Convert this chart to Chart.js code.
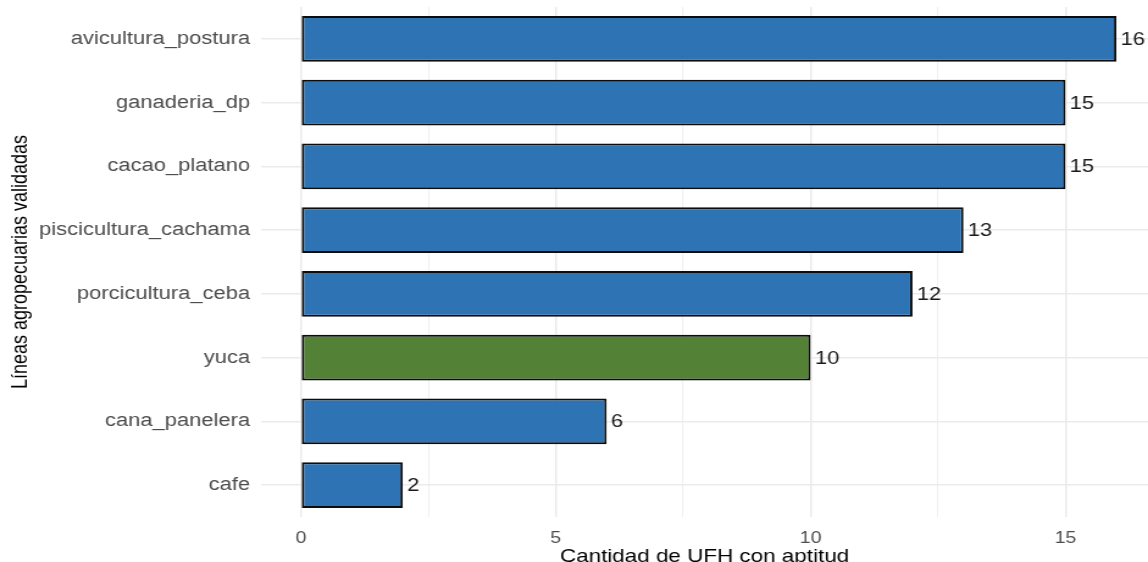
<!DOCTYPE html>
<html>
<head>
<meta charset="utf-8">
<script src="https://cdn.jsdelivr.net/npm/chart.js@4.4.1/dist/chart.umd.min.js"></script>
<style>
  html, body { margin: 0; padding: 0; background: #fff; overflow: hidden; }
  /* the source picture is stretched sideways, so the chart is drawn narrow and widened */
  #wrap { width: 941px; height: 562px; transform-origin: 0 0; transform: scaleX(1.22); }
  #lineasChart { width: 941px; height: 562px; }
</style>
</head>
<body>
<div id="wrap"><canvas id="lineasChart" width="941" height="562"></canvas></div>
<script>
// categories top to bottom
const lineas = ['avicultura_postura', 'ganaderia_dp', 'cacao_platano', 'piscicultura_cachama',
  'porcicultura_ceba', 'yuca', 'cana_panelera', 'cafe'];
const cantidadUFH = [16, 15, 15, 13, 12, 10, 6, 2];
const destacada = 'yuca';
const xTicks = [0, 5, 10, 15];

const azul = '#2E74B5';
const verde = '#538135';
const fuente = '"Liberation Sans", Arial, sans-serif';

// values written just right of each bar end
const valueLabels = {
  id: 'valueLabels',
  afterDatasetsDraw(chart) {
    const ctx = chart.ctx;
    const meta = chart.getDatasetMeta(0);
    ctx.save();
    ctx.font = '18px ' + fuente;
    ctx.fillStyle = '#1a1a1a';
    ctx.textAlign = 'left';
    ctx.textBaseline = 'middle';
    meta.data.forEach((bar, i) => {
      ctx.fillText(String(cantidadUFH[i]), bar.x + 3.5, bar.y + 1);
    });
    ctx.restore();
  }
};

const ctx = document.getElementById('lineasChart').getContext('2d');
const chart = new Chart(ctx, {
  type: 'bar',
  data: {
    labels: lineas,
    datasets: [{
      data: cantidadUFH,
      backgroundColor: lineas.map(l => l === destacada ? verde : azul),
      borderColor: '#0d0d0d',
      borderWidth: 2,
      borderSkipped: false,
      barPercentage: 0.72,
      categoryPercentage: 1.0
    }]
  },
  options: {
    indexAxis: 'y',
    responsive: false,
    animation: false,
    layout: { padding: { top: 7, right: 0, bottom: 0, left: 0 } },
    plugins: { legend: { display: false }, tooltip: { enabled: false } },
    scales: {
      x: {
        min: -0.78,
        max: 16.62,
        border: { display: false },
        grid: {
          drawTicks: false,
          color: '#ebebeb',
          lineWidth: c => (c.tick && c.tick.value % 5 === 0) ? 1.5 : 0.8
        },
        ticks: {
          stepSize: 2.5,
          includeBounds: false,
          padding: 12,
          color: '#4d4d4d',
          font: { family: fuente, size: 16 },
          callback: v => xTicks.includes(v) ? String(v) : ''
        },
        title: {
          display: true,
          text: 'Cantidad de UFH con aptitud',
          color: '#000',
          font: { family: fuente, size: 18.4 },
          padding: { top: 0, bottom: -5.6 }
        },
        afterFit: s => { s.height = 45; }
      },
      y: {
        border: { display: false },
        grid: { drawTicks: false, offset: false, color: '#ebebeb', lineWidth: 1.6 },
        ticks: {
          padding: 9,
          color: '#4d4d4d',
          font: { family: fuente, size: 18 }
        },
        title: {
          display: true,
          text: 'Líneas agropecuarias validadas',
          color: '#000',
          font: { family: fuente, size: 18 },
          padding: { top: 6, bottom: 0 }
        },
        afterFit: s => {
          s.width = 214;
          s.paddingTop = 0;
          s.paddingBottom = 0;
        }
      }
    }
  },
  plugins: [valueLabels]
});
</script>
</body>
</html>
